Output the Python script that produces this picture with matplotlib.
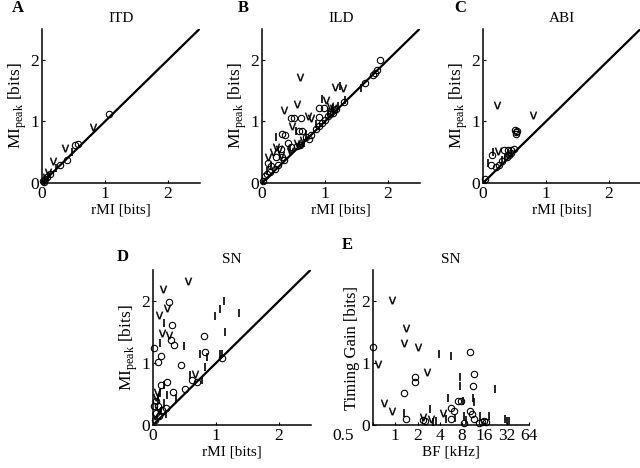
import matplotlib
matplotlib.use('Agg')
import matplotlib.pyplot as plt
import matplotlib.transforms as mtransforms

plt.rcParams['font.family'] = 'Liberation Serif'
plt.rcParams['mathtext.fontset'] = 'custom'
plt.rcParams['mathtext.rm'] = 'Liberation Serif'
plt.rcParams['mathtext.sf'] = 'DejaVu Sans'
plt.rcParams['font.size'] = 11

# --- datos panel A (ITD) ---
a_o_x = [1.06, 0.57, 0.53, 0.39, 0.28, 0.02, 0.05, 0.08, 0.12, 0.03]
a_o_y = [1.12, 0.63, 0.62, 0.37, 0.29, 0.03, 0.06, 0.10, 0.14, 0.01]
a_v_x = [0.81, 0.36, 0.17, 0.10, 0.06]
a_v_y = [0.91, 0.57, 0.35, 0.18, 0.10]
a_l_x = [0.47, 0.22, 0.04, 0.10]
a_l_y = [0.50, 0.25, 0.07, 0.12]

# --- datos panel B (ILD) ---
b_o_x = [1.88, 1.82, 1.79, 1.76, 1.64, 1.30, 1.18, 1.12, 1.08, 1.05, 1.00, 0.95, 0.90, 0.90, 0.99,
         0.46, 0.51, 0.62, 0.90, 0.59, 0.64, 0.78, 0.32, 0.37, 0.41, 0.46, 0.30, 0.23, 0.31, 0.10,
         0.15, 0.20, 0.05, 0.08, 0.02, 0.12, 0.55, 0.60, 0.70, 0.75, 0.85, 1.10, 1.15, 0.25, 0.35]
b_o_y = [2.00, 1.83, 1.78, 1.76, 1.63, 1.32, 1.20, 1.14, 1.12, 1.08, 1.02, 0.97, 0.92, 1.22, 1.22,
         1.05, 1.05, 1.05, 1.07, 0.85, 0.85, 0.78, 0.79, 0.78, 0.65, 0.59, 0.55, 0.43, 0.43, 0.33,
         0.27, 0.22, 0.12, 0.15, 0.03, 0.18, 0.60, 0.62, 0.75, 0.72, 0.88, 1.15, 1.18, 0.30, 0.38]
b_v_x = [0.60, 1.16, 1.29, 0.56, 1.02, 0.35, 0.73, 0.47, 0.23, 0.27, 0.56, 0.62, 0.10, 0.17,
         0.78, 1.08, 0.30, 0.65, 0.45, 1.12]
b_v_y = [1.72, 1.56, 1.54, 1.29, 1.35, 1.18, 1.09, 0.92, 0.59, 0.56, 0.65, 0.63, 0.43, 0.50,
         1.05, 1.25, 0.45, 0.70, 0.52, 1.22]
b_l_x = [1.57, 1.24, 0.95, 1.31, 0.23, 0.54, 0.66, 1.12, 1.05, 0.85, 0.45, 0.15, 0.08, 0.70, 1.20]
b_l_y = [1.54, 1.57, 1.36, 1.35, 0.75, 0.85, 0.65, 1.22, 1.15, 0.95, 0.55, 0.28, 0.20, 0.80, 1.25]

# --- datos panel C (ABI) ---
c_o_x = [0.50, 0.52, 0.54, 0.53, 0.34, 0.40, 0.45, 0.49, 0.14, 0.13, 0.21, 0.26, 0.03, 0.42,
         0.38, 0.45, 0.30]
c_o_y = [0.86, 0.82, 0.84, 0.80, 0.53, 0.53, 0.53, 0.56, 0.45, 0.29, 0.26, 0.29, 0.06, 0.45,
         0.42, 0.48, 0.35]
c_v_x = [0.23, 0.79, 0.24]
c_v_y = [1.27, 1.10, 0.52]
c_l_x = [0.16, 0.08, 0.35, 0.40, 0.44, 0.30]
c_l_y = [0.51, 0.33, 0.40, 0.46, 0.50, 0.38]

# --- datos panel D (SN) ---
d_o_x = [0.25, 0.30, 0.28, 0.33, 0.02, 0.12, 0.08, 0.81, 0.83, 1.09, 0.45, 0.62, 0.70, 0.51,
         0.12, 0.23, 0.32, 0.05, 0.08, 0.15, 0.05, 0.10, 0.03, 0.20, 0.02]
d_o_y = [1.99, 1.61, 1.37, 1.29, 1.24, 1.12, 1.01, 1.43, 1.17, 1.08, 0.97, 0.72, 0.70, 0.58,
         0.65, 0.70, 0.53, 0.39, 0.30, 0.25, 0.20, 0.15, 0.08, 0.28, 0.30]
d_v_x = [0.55, 0.16, 0.23, 0.09, 0.14, 0.26, 0.66, 0.07, 0.05, 0.10, 0.03]
d_v_y = [2.32, 2.20, 1.88, 1.77, 1.48, 1.45, 0.82, 0.53, 0.45, 0.25, 0.15]
d_l_x = [0.17, 0.11, 0.49, 0.74, 0.86, 1.06, 1.10, 1.13, 1.07, 0.99, 1.36, 1.14, 0.82, 0.58,
         0.77, 0.17, 0.23, 0.11, 0.37, 0.18, 0.08, 0.12, 0.20]
d_l_y = [1.64, 1.33, 1.28, 1.15, 1.10, 1.14, 1.14, 2.00, 1.87, 1.76, 1.81, 1.50, 0.94, 0.81,
         0.72, 0.65, 0.48, 0.51, 0.43, 0.35, 0.42, 0.22, 0.18]

# --- datos panel E (SN, ganancia vs BF) ---
e_o_x = [0.5, 10.1, 1.83, 1.83, 11.5, 11.2, 1.31, 7.0, 7.8, 5.7, 6.2, 10.1, 11.0, 1.38, 2.4,
         2.5, 5.6, 8.4, 11.5, 13.7, 15.0, 16.0, 17.0]
e_o_y = [1.26, 1.18, 0.78, 0.69, 0.83, 0.63, 0.51, 0.38, 0.38, 0.28, 0.23, 0.22, 0.18, 0.09, 0.08,
         0.06, 0.09, 0.03, 0.09, 0.04, 0.05, 0.06, 0.05]
e_v_x = [0.90, 1.41, 1.31, 2.03, 0.59, 2.7, 0.70, 0.90, 4.4, 2.4, 3.0]
e_v_y = [2.02, 1.56, 1.32, 1.26, 0.99, 0.85, 0.35, 0.23, 0.19, 0.13, 0.10]
e_l_x = [3.85, 5.6, 7.5, 7.5, 22.0, 5.1, 8.3, 11.2, 11.6, 2.9, 1.31, 30.0, 32.0, 34.0, 18.6,
         14.0, 8.4, 9.0, 3.2, 3.6, 4.8, 6.5]
e_l_y = [1.14, 1.12, 0.78, 0.63, 0.58, 0.44, 0.38, 0.43, 0.37, 0.26, 0.20, 0.09, 0.07, 0.06, 0.15,
         0.15, 0.15, 0.08, 0.05, 0.06, 0.10, 0.12]
e_ticks = [0.5, 1, 2, 4, 8, 16, 32, 64]

W, H = 640, 468
fig = plt.figure(figsize=(6.4, 4.68), dpi=100)


def make_ax(left, top, w=157.5, h=154):
    ax = fig.add_axes([left / W, (H - top - h) / H, w / W, h / H])
    ax.spines['top'].set_visible(False)
    ax.spines['right'].set_visible(False)
    for s in ['left', 'bottom']:
        ax.spines[s].set_linewidth(1.1)
    ax.tick_params(direction='in', length=2.5, width=0.8, pad=2, labelsize=12.5)
    return ax


def puntos(ax, ox, oy, vx, vy, lx, ly):
    ax.plot(ox, oy, 'o', mfc='none', mec='black', ms=4.6, mew=0.8, clip_on=False)
    ax.plot(vx, vy, ls='none', marker=r'$\mathsf{v}$', color='black', ms=5.3, mew=0.2,
            clip_on=False)
    ax.plot(lx, ly, ls='none', marker='|', color='black', ms=6, mew=1.2, clip_on=False)


def scatter_panel(ax, title, ox, oy, vx, vy, lx, ly):
    puntos(ax, ox, oy, vx, vy, lx, ly)
    ax.plot([0, 2.5], [0, 2.5], color='black', lw=1.6)
    ax.set_xlim(0, 2.5)
    ax.set_ylim(0, 2.5)
    ax.set_xticks([0, 1, 2])
    ax.set_yticks([0, 1, 2])
    ax.set_title(title, fontsize=11, pad=5)
    ax.set_xlabel('rMI [bits]', labelpad=1)
    ax.set_ylabel(r'MI$_{\mathrm{peak}}$ [bits]', fontsize=12.5, labelpad=1)


axA = make_ax(42, 29)
scatter_panel(axA, 'ITD', a_o_x, a_o_y, a_v_x, a_v_y, a_l_x, a_l_y)
axB = make_ax(262, 29)
scatter_panel(axB, 'ILD', b_o_x, b_o_y, b_v_x, b_v_y, b_l_x, b_l_y)
axC = make_ax(483, 29)
scatter_panel(axC, 'ABI', c_o_x, c_o_y, c_v_x, c_v_y, c_l_x, c_l_y)
axD = make_ax(153, 270, h=155)
scatter_panel(axD, 'SN', d_o_x, d_o_y, d_v_x, d_v_y, d_l_x, d_l_y)

axE = make_ax(373, 270, w=156, h=155)
puntos(axE, e_o_x, e_o_y, e_v_x, e_v_y, e_l_x, e_l_y)
axE.set_xscale('log', base=2)
axE.set_xlim(0.5, 64)
axE.set_ylim(0, 2.5)
axE.set_xticks(e_ticks)
axE.set_xticklabels([str(t) for t in e_ticks])
axE.minorticks_off()
axE.set_yticks([0, 1, 2])
axE.set_title('SN', fontsize=11, pad=5)
axE.set_xlabel('BF [kHz]', labelpad=1)
axE.set_ylabel('Timing Gain [bits]', fontsize=12, labelpad=1)
# la etiqueta 0.5 esta desplazada a la izquierda
lab = axE.get_xticklabels()[0]
lab.set_transform(lab.get_transform() + mtransforms.ScaledTranslation(-0.3, 0, fig.dpi_scale_trans))

# letras de los paneles
for txt, x, y in [('A', 18, 8), ('B', 243, 8), ('C', 460, 8), ('D', 123, 257), ('E', 347, 245)]:
    fig.text(x / W, 1 - y / H, txt, fontsize=12, fontweight='bold', ha='center', va='center')

plt.savefig('out.png', dpi=100)
